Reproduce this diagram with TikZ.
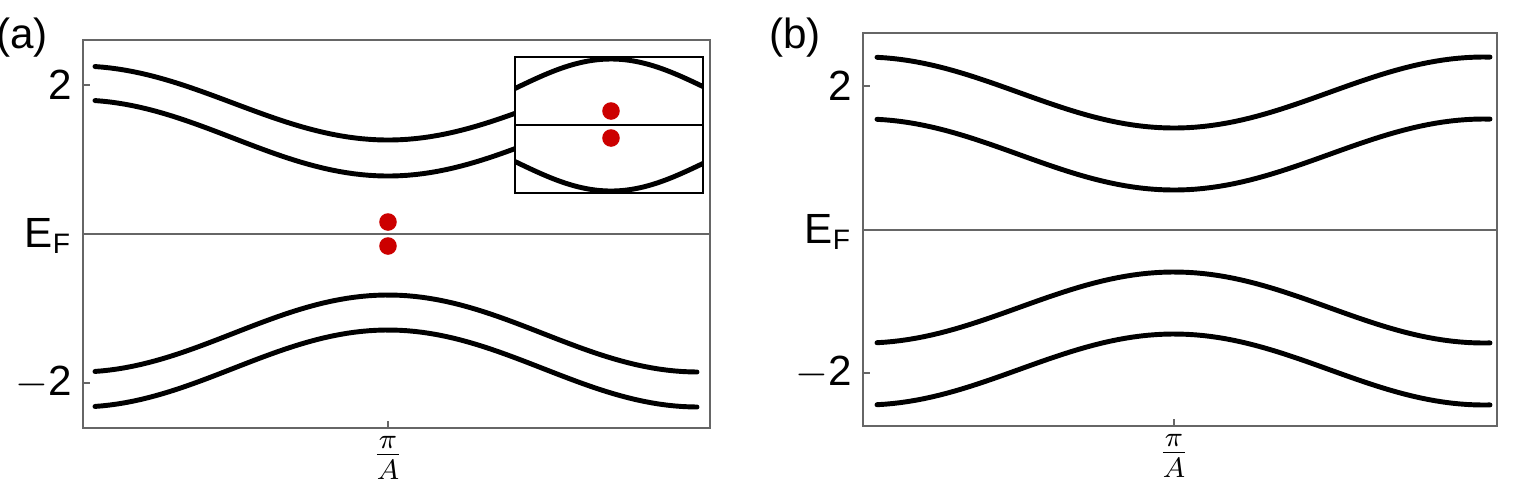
\documentclass[tikz,border=0pt]{standalone}
\usepackage{fontspec}
\setmainfont{Liberation Sans}
\usetikzlibrary{positioning}

\tikzset{
  frame/.style={draw=black!60, line width=0.6pt},
  band/.style={line width=1.4pt, line cap=round},
  fermi/.style={draw=black!60, line width=0.6pt},
  dot/.style={circle, fill=red!80!black, inner sep=0pt, minimum size=5pt},
  lbl/.style={font=\large, inner sep=1pt}
}

\begin{document}
\begin{tikzpicture}[x=0.01cm, y=-0.01cm]
        \useasboundingbox (0,0) rectangle (1517,496);

        % panel (a)
        \node[lbl] (la) at (22,38) {(a)};
        \draw[frame] (83,40) rectangle (710,428);
        \draw[fermi] (83,234) -- (710,234);
        \draw[band] plot[domain=95:697, samples=80] (\x,{103+37*cos((\x-388)/310*180)});
        \draw[band] plot[domain=95:697, samples=80] (\x,{138+38*cos((\x-388)/310*180)});
        \draw[band] plot[domain=95:697, samples=80] (\x,{333.5-38.5*cos((\x-388)/310*180)});
        \draw[band] plot[domain=95:697, samples=80] (\x,{368.5-38.5*cos((\x-388)/310*180)});
        \node[dot] (pa) at (388,222) {};
        \node[dot] (ma) at (388,246) {};
        \node[lbl, anchor=east] (ta) at (76,85) {2};
        \node[lbl, anchor=east] (ea) at (76,236) {E$_\mathrm{F}$};
        \node[lbl, anchor=east] (ba) at (76,383) {$-$2};
        \draw[frame] (83,85) -- (90,85) (83,383) -- (90,383) (388,428) -- (388,421);
        \node[lbl, anchor=north] (xa) at (388,432) {$\frac{\pi}{A}$};

        % inset
        \fill[white] (515,57) rectangle (703,193);
        \begin{scope}
          \clip (515,57) rectangle (703,193);
          \draw[band] plot[domain=515:703, samples=60] (\x,{88-29*cos((\x-611)/190*180)});
          \draw[band] plot[domain=515:703, samples=60] (\x,{162+29*cos((\x-611)/190*180)});
        \end{scope}
        \draw[line width=0.6pt] (515,57) rectangle (703,193);
        \draw[line width=0.6pt] (515,125) -- (703,125);
        \node[dot] (pi) at (611,111) {};
        \node[dot] (mi) at (611,138) {};

        % panel (b)
        \node[lbl] (lb) at (795,38) {(b)};
        \draw[frame] (863,33) rectangle (1497,426);
        \draw[fermi] (863,230) -- (1497,230);
        \draw[band] plot[domain=877:1490, samples=80] (\x,{92.5+35.5*cos((\x-1174)/310*180)});
        \draw[band] plot[domain=877:1490, samples=80] (\x,{154.5+35.5*cos((\x-1174)/310*180)});
        \draw[band] plot[domain=877:1490, samples=80] (\x,{307.5-35.5*cos((\x-1174)/310*180)});
        \draw[band] plot[domain=877:1490, samples=80] (\x,{369.5-35.5*cos((\x-1174)/310*180)});
        \node[lbl, anchor=east] (tb) at (856,86) {2};
        \node[lbl, anchor=east] (eb) at (856,232) {E$_\mathrm{F}$};
        \node[lbl, anchor=east] (bb) at (856,373) {$-$2};
        \draw[frame] (863,86) -- (870,86) (863,373) -- (870,373) (1174,426) -- (1174,419);
        \node[lbl, anchor=north] (xb) at (1174,430) {$\frac{\pi}{A}$};
\end{tikzpicture}
\end{document}
